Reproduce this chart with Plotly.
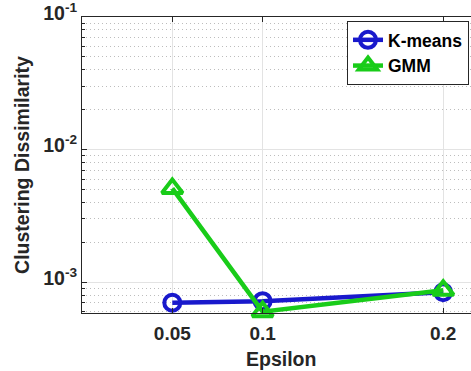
import plotly.graph_objects as go

# Clustering dissimilarity vs. epsilon for the two clustering methods
epsilon = [0.05, 0.1, 0.2]
kmeans_vals = [7.0e-4, 7.2e-4, 8.4e-4]
gmm_vals = [5.1e-3, 6.0e-4, 8.7e-4]

x_ticks = [0.05, 0.1, 0.2]
x_tick_text = ["0.05", "0.1", "0.2"]
y_ticks = [1e-3, 1e-2, 1e-1]
y_tick_text = ["10<sup>-3</sup>", "10<sup>-2</sup>", "10<sup>-1</sup>"]

BLUE = "rgb(25,25,204)"
GREEN = "rgb(25,204,25)"
INK = "#262626"
FONT = "Liberation Sans, Arial, sans-serif"

W, H = 471, 371
L, R, T, B = 82, 0, 13, 58
PX_PER_UNIT = 1806.0

fig = go.Figure()
fig.add_trace(go.Scatter(
    x=epsilon, y=kmeans_vals, name="K-means", mode="lines+markers",
    line=dict(color=BLUE, width=4.5),
    marker=dict(symbol="circle-open", size=16, color=BLUE, line=dict(width=4, color=BLUE)),
    cliponaxis=False,
))
fig.add_trace(go.Scatter(
    x=epsilon, y=gmm_vals, name="GMM", mode="lines+markers",
    line=dict(color=GREEN, width=4.5),
    marker=dict(symbol="triangle-up-open", size=18, color=GREEN, line=dict(width=4, color=GREEN)),
    cliponaxis=False,
))

# minor decade subdivisions for the log axis
minor_vals = [m * 10.0 ** e for e in (-4, -3, -2) for m in range(2, 10) if 5.8e-4 <= m * 10.0 ** e < 0.1]

fig.update_layout(
    width=W, height=H,
    margin=dict(l=L, r=R, t=T, b=B, pad=0),
    paper_bgcolor="white", plot_bgcolor="white",
    font=dict(family=FONT, color=INK),
    showlegend=True,
    legend=dict(
        x=(469 - L) / (W - L - R), xanchor="right",
        y=(H - B - 17) / (H - B - T), yanchor="top",
        bgcolor="white", bordercolor=INK, borderwidth=1,
        font=dict(family=FONT, size=17.5, color="black", weight="bold"),
        itemwidth=30, tracegroupgap=0,
    ),
    xaxis=dict(
        range=[0, (W - L - R) / PX_PER_UNIT],
        tickmode="array", tickvals=x_ticks, ticktext=x_tick_text,
        tickfont=dict(family=FONT, size=19, color=INK, weight="bold"),
        ticks="inside", ticklen=5, tickcolor=INK,
        ticklabelstandoff=3,
        showline=True, linecolor=INK, linewidth=1, mirror="ticks",
        showgrid=True, gridcolor="#e3e3e3", gridwidth=1,
        zeroline=False,
    ),
    yaxis=dict(
        type="log", range=[-3.232, -0.9995],
        tickmode="array", tickvals=y_ticks, ticktext=y_tick_text,
        tickfont=dict(family=FONT, size=19.5, color=INK, weight="bold"),
        ticks="inside", ticklen=5, tickcolor=INK,
        ticklabelshift=-4, ticklabeloverflow="allow",
        showline=True, linecolor=INK, linewidth=1,
        showgrid=True, gridcolor="#e3e3e3", gridwidth=1,
        zeroline=False,
        title=dict(text="Clustering Dissimilarity", standoff=8,
                   font=dict(family=FONT, size=19.5, color=INK, weight="bold")),
        minor=dict(tickmode="array", tickvals=minor_vals, ticks="inside", ticklen=3,
                   tickcolor=INK, showgrid=True, gridcolor="#bdbdbd", griddash="1px,3px", gridwidth=1),
    ),
    annotations=[dict(
        text="Epsilon", xref="paper", yref="paper",
        x=(280.5 - L) / (W - L - R), y=-(346 - (H - B)) / (H - B - T),
        xanchor="center", yanchor="top", showarrow=False,
        font=dict(family=FONT, size=19.5, color=INK, weight="bold"),
    )],
)

fig.write_html("out.html")
